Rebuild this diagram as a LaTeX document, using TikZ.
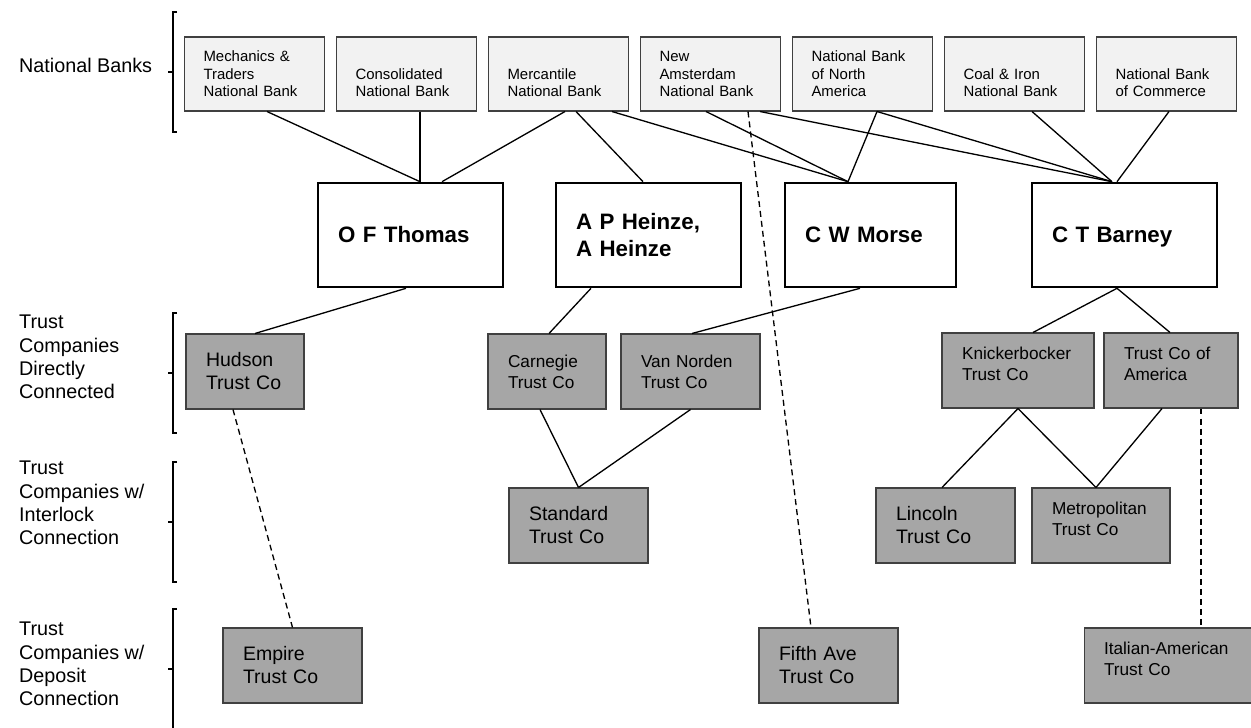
\documentclass[tikz,border=0pt]{standalone}
\usepackage{fontspec}
\setmainfont{Liberation Sans}
\usepackage{tikz}
\usetikzlibrary{calc}
\definecolor{bankfill}{HTML}{F2F2F2}
\definecolor{trustfill}{HTML}{A6A6A6}
\definecolor{edgegray}{HTML}{404040}

\tikzset{
  bank/.style={draw=edgegray, line width=0.6pt, fill=bankfill, minimum width=2.8cm, minimum height=1.48cm, inner xsep=0.38cm, text width=2.04cm, align=left, font=\fontsize{8.5pt}{10pt}\selectfont},
  lowered/.style={text height=16.2pt},
  person/.style={draw=black, line width=1.5pt, fill=white, minimum height=2.08cm, inner xsep=0.4cm, text width=#1, align=left, font=\bfseries\fontsize{12.7pt}{15.4pt}\selectfont},
  person/.default=2.9cm,
  trust/.style={draw=edgegray, line width=0.6pt, fill=trustfill, minimum height=1.5cm, inner xsep=0.4cm, text width=#1, align=left, font=\fontsize{11.1pt}{13.1pt}\selectfont},
  trustsm/.style={trust=#1, font=\fontsize{9.8pt}{12pt}\selectfont},
  raised/.style={text depth=19.5pt},
  group/.style={anchor=west, align=left, font=\fontsize{11.25pt}{13.3pt}\selectfont},
  link/.style={line width=0.75pt},
  deplink/.style={link, dash pattern=on 3.4pt off 2.3pt}
}

\begin{document}
\begin{tikzpicture}[x=0.02cm, y=-0.02cm]
    \useasboundingbox (0,0) rectangle (1251,727);

    % Group labels
    \node[group] (lblbanks) at (13,65) {National Banks};
    \node[group] (lbldirect) at (13,357) {Trust\\Companies\\Directly\\Connected};
    \node[group] (lblinterlock) at (13,503) {Trust\\Companies w/\\Interlock\\Connection};
    \node[group] (lbldeposit) at (13,664) {Trust\\Companies w/\\Deposit\\Connection};

    % Brackets
    \foreach \ya/\yb in {12/132, 313/433, 462/582, 609/729}
        \draw[line width=0.6pt] (177,\ya) -- (173,\ya) -- (173,\yb) -- (177,\yb)
            (173,{(\ya+\yb)/2}) -- (168,{(\ya+\yb)/2});

    % National banks
    \node[bank] (mech) at (254.5,74) {Mechanics \&\\Traders\\National Bank};
    \node[bank, lowered] (consol) at (406.5,74) {Consolidated\\National Bank};
    \node[bank, lowered] (merc) at (558.5,74) {Mercantile\\National Bank};
    \node[bank] (newam) at (710.5,74) {New\\Amsterdam\\National Bank};
    \node[bank] (nbna) at (862.5,74) {National Bank\\of North\\America};
    \node[bank, lowered] (coal) at (1014.5,74) {Coal \& Iron\\National Bank};
    \node[bank, lowered] (commerce) at (1166.5,74) {National Bank\\of Commerce};

    % Principals
    \node[person] (thomas) at (410.5,235) {O F Thomas};
    \node[person] (heinze) at (648.5,235) {A P Heinze,\\A Heinze};
    \node[person=2.62cm] (morse) at (870.5,235) {C W Morse};
    \node[person, text depth=0pt] (barney) at (1124.5,235) {C T Barney};

    % Trust companies
    \node[trust=1.56cm] (hudson) at (245,371.5) {Hudson\\Trust Co};
    \node[trustsm=1.56cm] (carnegie) at (547,371.5) {Carnegie\\Trust Co};
    \node[trustsm=1.98cm] (vannorden) at (690.5,371.5) {Van Norden\\Trust Co};
    \node[trustsm=2.24cm, raised] (knick) at (1018,370.5) {Knickerbocker\\Trust Co};
    \node[trustsm=1.88cm, raised] (tcoa) at (1171,370.5) {Trust Co of\\America};
    \node[trust=1.98cm] (standard) at (578.5,525.5) {Standard\\Trust Co};
    \node[trust=1.98cm] (lincoln) at (945.5,525.5) {Lincoln\\Trust Co};
    \node[trustsm=1.96cm, raised] (metro) at (1101,525.5) {Metropolitan\\Trust Co};
    \node[trust=1.98cm] (empire) at (292.5,665.5) {Empire\\Trust Co};
    \node[trust=1.98cm] (fifth) at (828.5,665.5) {Fifth Ave\\Trust Co};
    \node[trustsm=2.76cm, raised] (italian) at (1173,665.5) {Italian-American\\Trust Co};

    % Banks to principals
    \draw[link] ($(mech.south)+(12.5,0)$) -- ($(thomas.north)+(9.5,0)$);
    \draw[link] ($(consol.south)+(13.5,0)$) -- ($(thomas.north)+(9.5,0)$);
    \draw[link] ($(merc.south)+(6.5,0)$) -- ($(thomas.north)+(31.5,0)$);
    \draw[link] ($(merc.south)+(17.5,0)$) -- ($(heinze.north)+(-5.5,0)$);
    \draw[link] ($(merc.south)+(53.5,0)$) -- ($(morse.north)+(-22.5,0)$);
    \draw[link] ($(newam.south)+(-4.5,0)$) -- ($(morse.north)+(-22.5,0)$);
    \draw[link] ($(newam.south)+(49.5,0)$) -- ($(barney.north)+(-12.5,0)$);
    \draw[link] ($(nbna.south)+(14.5,0)$) -- ($(morse.north)+(-22.5,0)$);
    \draw[link] ($(nbna.south)+(14.5,0)$) -- ($(barney.north)+(-12.5,0)$);
    \draw[link] ($(coal.south)+(17.5,0)$) -- ($(barney.north)+(-12.5,0)$);
    \draw[link] ($(commerce.south)+(2.5,0)$) -- ($(barney.north)+(-7.5,0)$);

    % Principals to trust companies
    \draw[link] ($(thomas.south)+(-4.5,0)$) -- ($(hudson.north)+(10,0)$);
    \draw[link] ($(heinze.south)+(-57.5,0)$) -- ($(carnegie.north)+(2,0)$);
    \draw[link] ($(morse.south)+(-10.5,0)$) -- ($(vannorden.north)+(1.5,0)$);
    \draw[link] ($(barney.south)+(-7.5,0)$) -- ($(knick.north)+(15,0)$);
    \draw[link] ($(barney.south)+(-7.5,0)$) -- ($(tcoa.north)+(-1,0)$);

    % Interlocks
    \draw[link] ($(carnegie.south)+(-7,0)$) -- (standard.north);
    \draw[link] (vannorden.south) -- (standard.north);
    \draw[link] (knick.south) -- ($(lincoln.north)+(-3.5,0)$);
    \draw[link] (knick.south) -- ($(metro.north)+(-5,0)$);
    \draw[link] ($(tcoa.south)+(-9,0)$) -- ($(metro.north)+(-5,0)$);

    % Deposits
    \draw[deplink] ($(hudson.south)+(-12,0)$) -- (empire.north);
    \draw[deplink] ($(newam.south)+(37.5,0)$) -- ($(fifth.north)+(-17.5,0)$);
    \draw[deplink] ($(tcoa.south)+(30,0)$) -- ($(italian.north)+(28,0)$);
\end{tikzpicture}
\end{document}
